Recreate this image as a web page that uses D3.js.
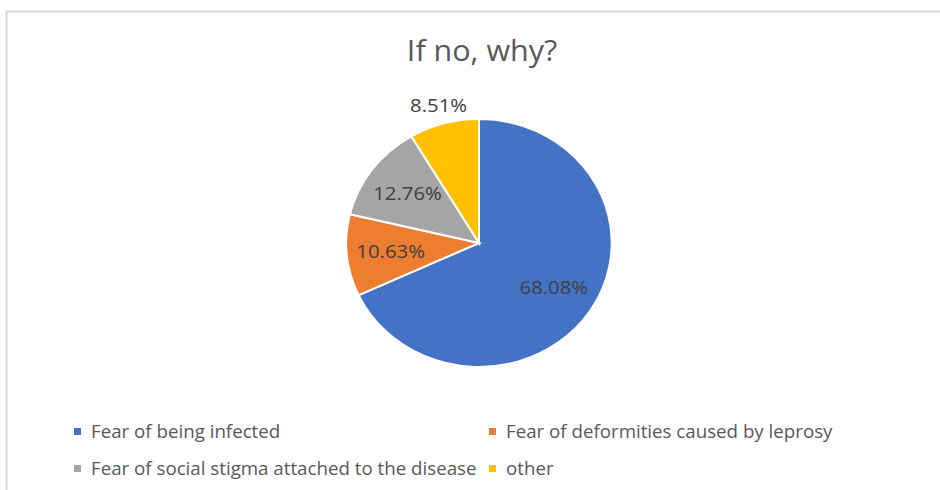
<!DOCTYPE html>
<html>
<head>
<meta charset="utf-8">
<script src="https://cdn.jsdelivr.net/npm/d3@7"></script>
<style>
body{margin:0;background:#fff;}
svg{display:block;font-family:"Open Sans",Lato,sans-serif;}
</style>
</head>
<body>
<svg id="myGraph" width="940" height="490"></svg>
<script>
var categories=["Fear of being infected","Fear of deformities caused by leprosy","Fear of social stigma attached to the disease","other"];
var values=[68.08,10.63,12.76,8.51];
var colors=["#4472c4","#ed7d31","#a5a5a5","#ffc000"];

var svgWidth=940;
var svgHeight=490;
var cx=479,cy=243,radius=124;
var stretch=1.07;//the whole picture is a bit wider than tall

var svg=d3.select("#myGraph");

// chart frame (only top and left edges are visible in the crop)
svg.append("rect")
	.attr("x",6.5).attr("y",11.5)
	.attr("width",960).attr("height",500)
	.attr("fill","#fff")
	.attr("stroke","#d9d9d9")
	.attr("stroke-width",2);

svg.append("text")
	.attr("transform","translate(482,61) scale("+stretch+",1)")
	.attr("text-anchor","middle")
	.style("font-size","28.5px")
	.style("fill","#595959")
	.text("If no, why?");

var color=d3.scaleOrdinal().domain(categories).range(colors);

var pie=d3.pie().sort(null).value(function(d){return d;});
var arcs=pie(values);
var arc=d3.arc().innerRadius(0).outerRadius(radius);
var labelArcIn=d3.arc().innerRadius(83).outerRadius(83);
var labelArcOut=d3.arc().innerRadius(143).outerRadius(143);

var g=svg.append("g")
	.attr("transform","translate("+cx+","+cy+") scale("+stretch+",1)");

g.selectAll("path")
	.data(arcs)
	.enter()
	.append("path")
	.attr("d",arc)
	.style("fill",function(d,i){return color(categories[i]);})
	.style("stroke","#fff")
	.style("stroke-width",2)
	.attr("vector-effect","non-scaling-stroke");

g.selectAll("text")
	.data(arcs)
	.enter()
	.append("text")
	.attr("transform",function(d){
		var c=(d.data<10?labelArcOut:labelArcIn).centroid(d);
		return "translate("+c[0]+","+c[1]+")";
	})
	.attr("text-anchor","middle")
	.attr("dy","0.35em")
	.style("font-size","19px")
	.style("fill","#404040")
	.text(function(d){return d3.format(".2f")(d.data)+"%";});

// legend, two columns
var legendX=[74,489,74,489];
var legendY=[432,432,469,469];
var legend=svg.append("g")
	.selectAll("g")
	.data(categories)
	.enter()
	.append("g")
	.attr("transform",function(d,i){return "translate("+legendX[i]+","+legendY[i]+")";});

legend.append("rect")
	.attr("x",0).attr("y",-4)
	.attr("width",7).attr("height",7)
	.style("fill",function(d){return color(d);});

legend.append("text")
	.attr("transform","translate(17,0) scale("+stretch+",1)")
	.attr("dy","0.35em")
	.style("font-size","17.5px")
	.style("fill","#595959")
	.text(function(d){return d;});
</script>
</body>
</html>
